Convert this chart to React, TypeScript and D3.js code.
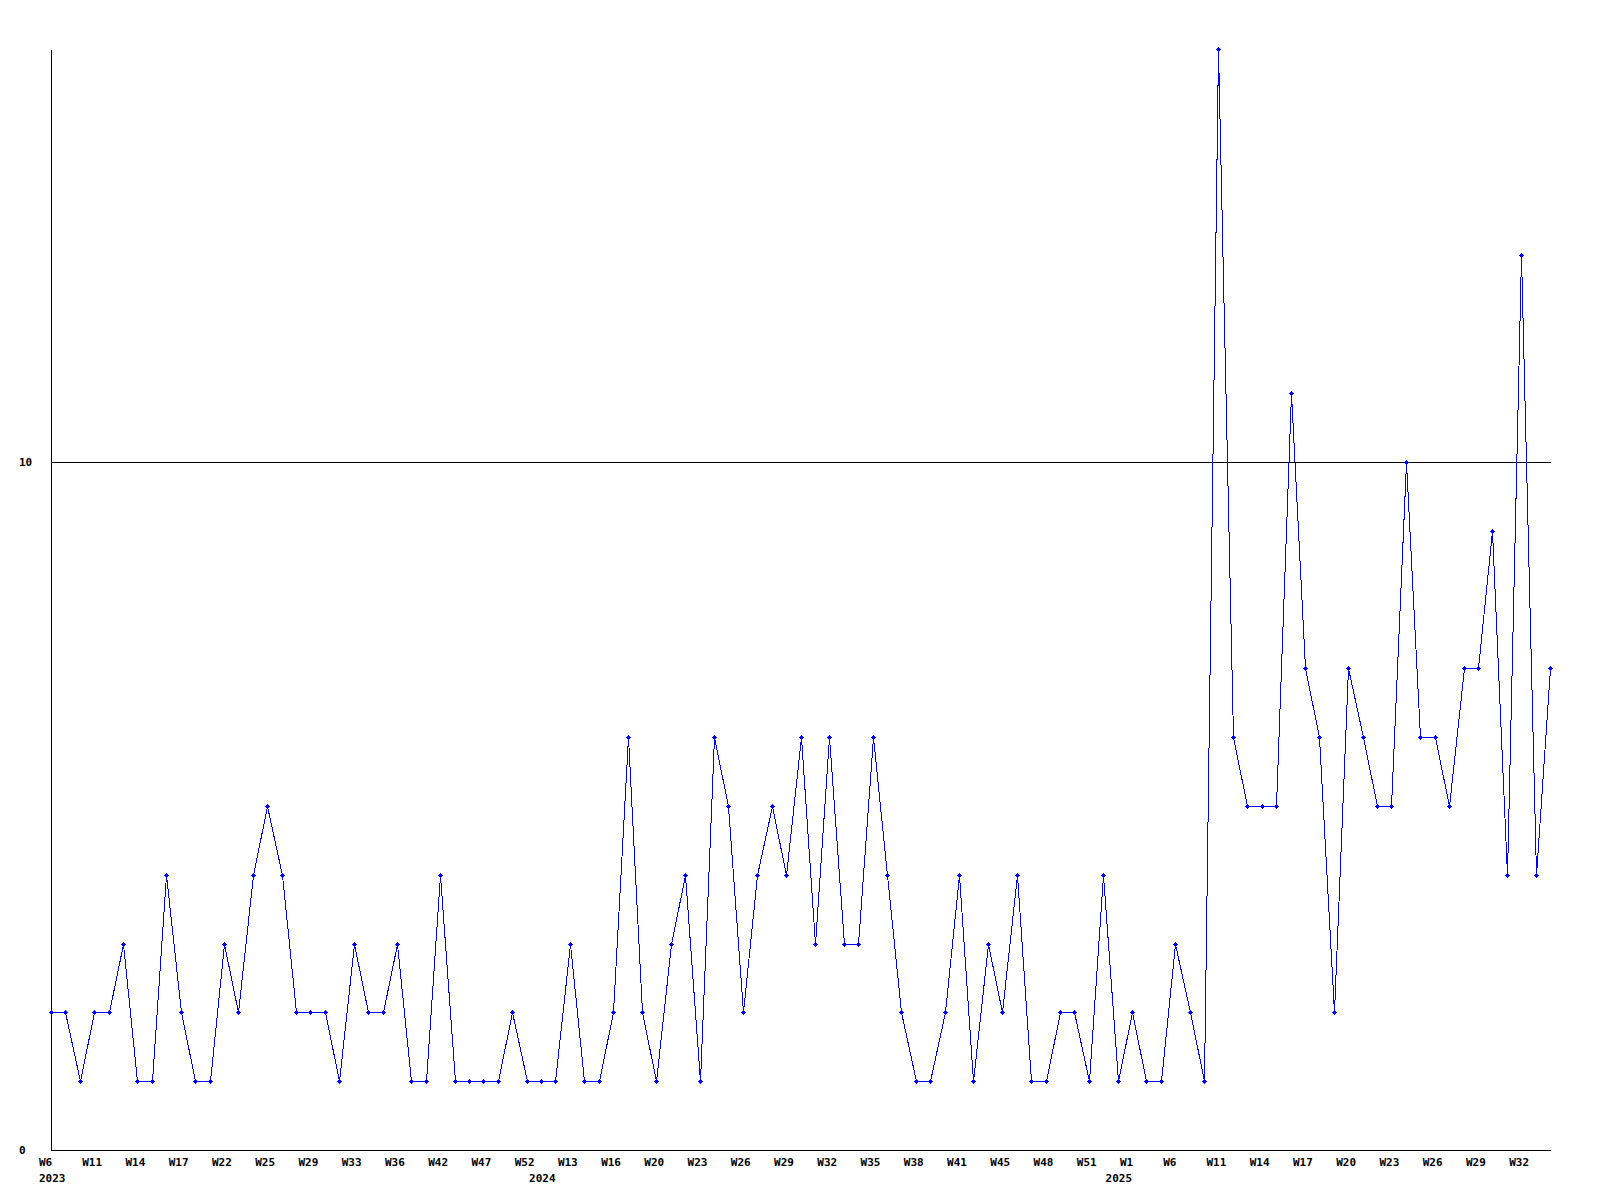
import React from "react";
import * as d3 from "d3";

// weekly values, one per plotted week (index 0 = W6 2023)
const values: number[] = [
  2, 2, 1, 2, 2, 3, 1, 1, 4, 2,
  1, 1, 3, 2, 4, 5, 4, 2, 2, 2,
  1, 3, 2, 2, 3, 1, 1, 4, 1, 1,
  1, 1, 2, 1, 1, 1, 3, 1, 1, 2,
  6, 2, 1, 3, 4, 1, 6, 5, 2, 4,
  5, 4, 6, 3, 6, 3, 3, 6, 4, 2,
  1, 1, 2, 4, 1, 3, 2, 4, 1, 1,
  2, 2, 1, 4, 1, 2, 1, 1, 3, 2,
  1, 16, 6, 5, 5, 5, 11, 7, 6, 2,
  7, 6, 5, 5, 10, 6, 6, 5, 7, 7,
  9, 4, 13, 4, 7,
];

// week tick labels, one every 3 points starting at index 0
const weekTicks: string[] = [
  "W6", "W11", "W14", "W17", "W22", "W25", "W29", "W33", "W36", "W42", "W47", "W52",
  "W13", "W16", "W20", "W23", "W26", "W29", "W32", "W35", "W38", "W41", "W45", "W48", "W51",
  "W1", "W6", "W11", "W14", "W17", "W20", "W23", "W26", "W29", "W32",
];
const weekTickStep = 3;

const yearLabels: string[] = ["2023", "2024", "2025"];
const yearIndex: number[] = [0, 34, 74];

const yTicks: number[] = [0, 10];
const yMax = 16;

const FONT = "'DejaVu Sans Mono', monospace";

export default function App() {
  const x = d3.scaleLinear().domain([0, values.length - 1]).range([51, 1550]);
  const y = d3.scaleLinear().domain([0, yMax]).range([1150, 49]);
  const line = d3
    .line<number>()
    .x((_, i) => Math.round(x(i)) + 0.5)
    .y((d) => Math.round(y(d)) + 0.5);

  const x0 = Math.round(x(0)) + 0.5;
  const x1 = Math.round(x(values.length - 1)) + 0.5;
  const yb = Math.round(y(0)) + 0.5;

  return (
    <svg
      width={1600}
      height={1200}
      style={{ position: "absolute", left: 0, top: 0, background: "#fff" }}
    >
      <rect x={0} y={0} width={1600} height={1200} fill="#fff" />
      {yTicks
        .filter((t) => t > 0)
        .map((t) => (
          <line
            key={"g" + t}
            x1={x0}
            x2={x1}
            y1={Math.round(y(t)) + 0.5}
            y2={Math.round(y(t)) + 0.5}
            stroke="#000"
            strokeWidth={1}
            shapeRendering="crispEdges"
          />
        ))}
      <line x1={x0} x2={x0} y1={Math.round(y(yMax)) + 0.5} y2={yb} stroke="#000" strokeWidth={1} shapeRendering="crispEdges" />
      <line x1={x0} x2={x1} y1={yb} y2={yb} stroke="#000" strokeWidth={1} shapeRendering="crispEdges" />
      {yTicks.map((t) => (
        <text
          key={"y" + t}
          x={19}
          y={y(t) + 4}
          fontFamily={FONT}
          fontWeight="bold"
          fontSize={11}
          fill="#000"
        >
          {t}
        </text>
      ))}
      {weekTicks.map((w, k) => (
        <text
          key={"w" + k}
          x={x(k * weekTickStep) - 12}
          y={1166}
          fontFamily={FONT}
          fontWeight="bold"
          fontSize={11}
          fill="#000"
        >
          {w}
        </text>
      ))}
      {yearLabels.map((yr, k) => (
        <text
          key={"yr" + k}
          x={x(yearIndex[k]) - 12}
          y={1182}
          fontFamily={FONT}
          fontWeight="bold"
          fontSize={11}
          fill="#000"
        >
          {yr}
        </text>
      ))}
      <path
        d={line(values) || ""}
        fill="none"
        stroke="#0000ff"
        strokeWidth={1}
        shapeRendering="crispEdges"
      />
      {values.map((v, i) => {
        const cx = Math.round(x(i));
        const cy = Math.round(y(v));
        return (
          <g key={"m" + i} fill="#0000ff" shapeRendering="crispEdges">
            <rect x={cx - 2} y={cy} width={5} height={1} />
            <rect x={cx} y={cy - 2} width={1} height={5} />
            <rect x={cx - 1} y={cy - 1} width={3} height={3} />
          </g>
        );
      })}
    </svg>
  );
}
